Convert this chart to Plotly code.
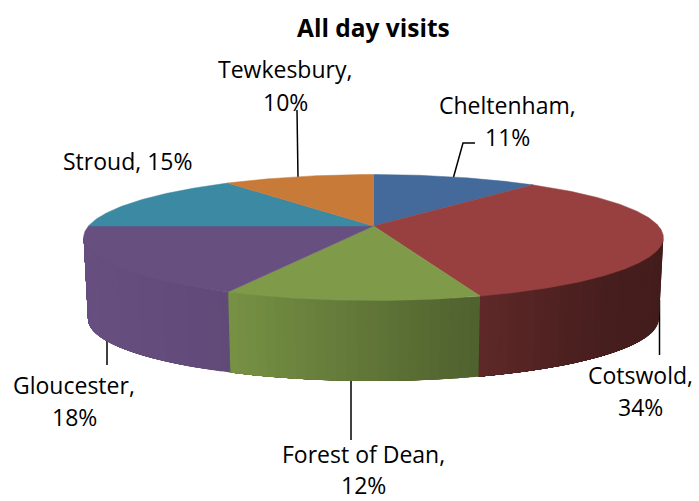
import math
import plotly.graph_objects as go

categories = ["Cheltenham", "Cotswold", "Forest of Dean", "Gloucester", "Stroud", "Tewkesbury"]
values = [11, 34, 12, 18, 15, 10]
colors = ["#436a9b", "#984040", "#7f9b49", "#674f80", "#3b89a3", "#c87a38"]

W, H = 699, 501
FONT = "Open Sans"
CX, CY, A, B, K = 373.5, 226.0, 285.0, 60.9, 0.1826
CY2, SHRINK = 307.6, 0.985
# side shading: (x pixel, brightness)
SHADE = [(83, 1.0), (225, 0.94), (350, 0.78), (484, 0.62), (600, 0.47), (665, 0.44)]


def project(theta, cy=CY, scale=1.0):
    s = 1.0 / (1.0 + K * math.cos(theta))
    return CX + A * scale * s * math.sin(theta), cy - B * scale * s * math.cos(theta)


def shade(hex_color, x):
    f = SHADE[-1][1]
    for (x0, f0), (x1, f1) in zip(SHADE, SHADE[1:]):
        if x0 <= x <= x1:
            f = f0 + (f1 - f0) * (x - x0) / (x1 - x0)
            break
    rgb = [int(hex_color[i:i + 2], 16) for i in (1, 3, 5)]
    return "rgb(%d,%d,%d)" % tuple(min(255, round(c * f)) for c in rgb)


def poly(xs, ys, color, width=0.0):
    return go.Scatter(x=xs, y=ys, mode="lines", fill="toself", fillcolor=color,
                      line=dict(color=color, width=width), hoverinfo="skip", showlegend=False)


total = sum(values)
edges = [0.0]
for v in values:
    edges.append(edges[-1] + v / total * 2 * math.pi)

fig = go.Figure()

# leader lines (category -> polyline)
leaders = {
    "Tewkesbury": ([297, 298], [110, 178]),
    "Cheltenham": ([475, 463, 453], [143, 143, 179]),
    "Cotswold": ([659.5, 659.5], [300, 355]),
    "Forest of Dean": ([351, 351], [375, 440]),
    "Gloucester": ([107, 107], [325, 365]),
}
for xs, ys in leaders.values():
    fig.add_trace(go.Scatter(x=xs, y=ys, mode="lines", line=dict(color="black", width=1.5),
                             hoverinfo="skip", showlegend=False))

# side wall: overlapping strips painted left to right so no seams appear
t_left, t_right = math.acos(-K), 2 * math.pi - math.acos(-K)
for i, col in enumerate(colors):
    a0, a1 = max(edges[i], t_left), min(edges[i + 1], t_right)
    if a1 <= a0:
        continue
    n = max(2, int((a1 - a0) / 0.03))
    for j in range(n):
        u0 = a0 + (a1 - a0) * j / n
        ts = [u0 + (a1 - u0) * m / 6 for m in range(7)]
        top = [project(t) for t in ts]
        bot = [project(t, CY2, SHRINK) for t in reversed(ts)]
        pts = top + bot + [top[0]]
        xm, _ = project(u0 + (a1 - a0) / n / 2)
        fig.add_trace(poly([p[0] for p in pts], [p[1] for p in pts], shade(col, xm)))

# top face
for i, col in enumerate(colors):
    n = max(8, int((edges[i + 1] - edges[i]) / 0.01))
    ts = [edges[i] + (edges[i + 1] - edges[i]) * j / n for j in range(n + 1)]
    pts = [project(t) for t in ts]
    xs = [CX] + [p[0] for p in pts] + [CX]
    ys = [CY] + [p[1] for p in pts] + [CY]
    fig.add_trace(poly(xs, ys, col, 0.5))

# labels: category -> centre positions of the text lines
label_pos = {
    "Cheltenham": (507, 105, 507, 137),
    "Cotswold": (640, 375, 640, 407),
    "Forest of Dean": (363, 454, 363, 485),
    "Gloucester": (74, 385, 74, 417),
    "Stroud": (127, 161, None, None),
    "Tewkesbury": (285, 69, 285, 102),
}
annotations = []
for cat, v in zip(categories, values):
    x1, y1, x2, y2 = label_pos[cat]
    if x2 is None:
        lines = [(f"{cat}, {v}%", x1, y1)]
    else:
        lines = [(f"{cat},", x1, y1), (f"{v}%", x2, y2)]
    for txt, x, y in lines:
        annotations.append(dict(text=txt, x=x, y=y, xref="x", yref="y", showarrow=False,
                                xanchor="center", yanchor="middle",
                                font=dict(family=FONT, size=23, color="black")))
annotations.append(dict(text="<b>All day visits</b>", x=373, y=27, xref="x", yref="y", showarrow=False,
                        xanchor="center", yanchor="middle",
                        font=dict(family=FONT, size=24.5, color="black")))

fig.update_layout(
    width=W, height=H, margin=dict(l=0, r=0, t=0, b=0),
    paper_bgcolor="white", plot_bgcolor="white",
    xaxis=dict(range=[0, W], visible=False, fixedrange=True),
    yaxis=dict(range=[H, 0], visible=False, fixedrange=True),
    annotations=annotations, showlegend=False,
)
fig.write_html("out.html", config={"displayModeBar": False},
               post_script="document.body.style.margin='0';")
